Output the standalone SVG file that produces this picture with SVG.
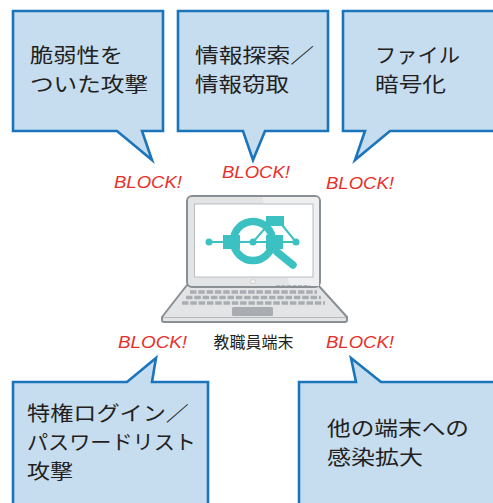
<svg xmlns="http://www.w3.org/2000/svg" width="493" height="503" viewBox="0 0 493 503">
  <style>
    .callout { fill: #c6dcef; stroke: #1b75bb; stroke-width: 2.6; stroke-linejoin: miter; }
    .ctext { font-family: "Noto Sans CJK JP", "Noto Sans", sans-serif; font-size: 20px; fill: #231f20; }
    .block { font-family: "Liberation Sans", Arial, sans-serif; font-style: italic; font-size: 16px; fill: #e8302a; }
    .label { font-family: "Noto Sans CJK JP", "Noto Sans", sans-serif; font-size: 16px; fill: #231f20; }
    .teal { fill: #3cc1c3; }
    .tealline { stroke: #3cc1c3; fill: none; }
    .keys { stroke: #a9adb1; stroke-width: 3.4; stroke-dasharray: 6.5 1.8; fill: none; }
  </style>
  <rect width="493" height="503" fill="#ffffff"/>

  <!-- top callouts -->
  <g id="vuln-attack">
    <path class="callout" d="M13,11 H163 V131 H142 L152,160 L117,131 H13 Z"/>
    <text class="ctext" x="30" y="63" textLength="93" lengthAdjust="spacingAndGlyphs">脆弱性を</text>
    <text class="ctext" x="30" y="92" textLength="118" lengthAdjust="spacingAndGlyphs">ついた攻撃</text>
  </g>
  <g id="info-theft">
    <path class="callout" d="M178,11 H328 V131 H265 L253,160 L243,131 H178 Z"/>
    <text class="ctext" x="195" y="63" textLength="119" lengthAdjust="spacingAndGlyphs">情報探索／</text>
    <text class="ctext" x="195" y="92" textLength="94" lengthAdjust="spacingAndGlyphs">情報窃取</text>
  </g>
  <g id="file-encrypt">
    <path class="callout" d="M343,11 H500 V131 H390 L355,160 L365,131 H343 Z"/>
    <text class="ctext" x="375" y="63" textLength="85" lengthAdjust="spacingAndGlyphs">ファイル</text>
    <text class="ctext" x="375" y="92" textLength="71" lengthAdjust="spacingAndGlyphs">暗号化</text>
  </g>

  <!-- bottom callouts -->
  <g id="privileged-login">
    <path class="callout" d="M13,382 H127 L156,358 L152,382 H208 V512 H13 Z"/>
    <text class="ctext" x="27" y="421" textLength="162" lengthAdjust="spacingAndGlyphs">特権ログイン／</text>
    <text class="ctext" x="27" y="450" textLength="169" lengthAdjust="spacingAndGlyphs">パスワードリスト</text>
    <text class="ctext" x="27" y="479" textLength="46" lengthAdjust="spacingAndGlyphs">攻撃</text>
  </g>
  <g id="lateral-spread">
    <path class="callout" d="M299,382 H356 L351,358 L381,382 H500 V512 H299 Z"/>
    <text class="ctext" x="327" y="436" textLength="142" lengthAdjust="spacingAndGlyphs">他の端末への</text>
    <text class="ctext" x="327" y="465" textLength="96" lengthAdjust="spacingAndGlyphs">感染拡大</text>
  </g>

  <!-- block labels -->
  <g id="connectors">
    <text class="block" x="114" y="188" textLength="68" lengthAdjust="spacingAndGlyphs">BLOCK!</text>
    <text class="block" x="222" y="178" textLength="68" lengthAdjust="spacingAndGlyphs">BLOCK!</text>
    <text class="block" x="326" y="189" textLength="68" lengthAdjust="spacingAndGlyphs">BLOCK!</text>
    <text class="block" x="118" y="348" textLength="69" lengthAdjust="spacingAndGlyphs">BLOCK!</text>
    <text class="block" x="326" y="348" textLength="68" lengthAdjust="spacingAndGlyphs">BLOCK!</text>
  </g>

  <!-- laptop -->
  <g id="laptop">
    <!-- base -->
    <path d="M187,285 H318 L347,317 V320 Q347,322 345,322 H164 Q162,322 162,320 V317 Z" fill="#e3e4e5" stroke="#8a8f94" stroke-width="2" stroke-linejoin="round"/>
    <line x1="163" y1="317.5" x2="346" y2="317.5" stroke="#b5b9bd" stroke-width="1"/>
    <line class="keys" x1="190" y1="292" x2="317" y2="292"/>
    <line class="keys" x1="186" y1="297.5" x2="321" y2="297.5"/>
    <line class="keys" x1="182" y1="303" x2="325" y2="303"/>
    <rect x="232" y="307" width="41" height="9" rx="1.5" fill="#a9adb1"/>
    <!-- lid -->
    <rect x="187" y="196" width="133" height="91" rx="5" fill="#e3e4e5" stroke="#8a8f94" stroke-width="2"/>
    <path d="M262,197 H315 Q319,197 319,201 V286 H290 Z" fill="#eeeff0"/>
    <rect x="194.5" y="204" width="118.5" height="73" fill="#ffffff" stroke="#b9bcbf" stroke-width="1"/>
    <rect x="251" y="280" width="4" height="3" fill="#ffffff" stroke="#b9bcbf" stroke-width="0.6"/>
    <line x1="276" y1="285.5" x2="310" y2="285.5" stroke="#b5b9bd" stroke-width="1.2" stroke-dasharray="4 1.5"/>

    <!-- search / network icon -->
    <line class="tealline" x1="209" y1="242" x2="296" y2="242" stroke-width="2"/>
    <polyline class="tealline" points="253,242 268,225" stroke-width="2"/>
    <polyline class="tealline" points="282,225 296,242" stroke-width="2"/>
    <circle class="tealline" cx="253" cy="241" r="19.5" stroke-width="7.5"/>
    <line class="tealline" x1="277" y1="252" x2="293" y2="265" stroke-width="7.5" stroke-linecap="round"/>
    <rect class="teal" x="223" y="235" width="17" height="14"/>
    <rect class="teal" x="266" y="235" width="17" height="14"/>
    <rect class="teal" x="266" y="216" width="18" height="10"/>
    <circle class="teal" cx="209" cy="242" r="3.5"/>
    <circle class="teal" cx="253" cy="242" r="3.5"/>
    <circle class="teal" cx="296" cy="242" r="3.5"/>

    <text class="label" x="253.5" y="348" text-anchor="middle">教職員端末</text>
  </g>
</svg>
